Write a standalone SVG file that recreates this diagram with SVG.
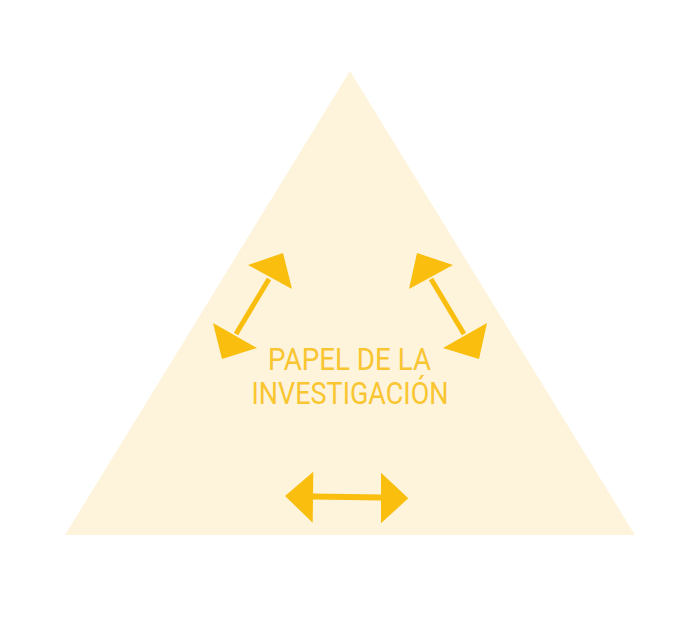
<svg xmlns="http://www.w3.org/2000/svg" width="700" height="634" viewBox="0 0 700 634">
  <style>
    .bg { fill: #FEF4DC; }
    .head { fill: #F9BE0E; }
    .shaft { stroke: #F9BE0E; stroke-width: 5; fill: none; }
    .label { font-family: Roboto, "Liberation Sans", sans-serif; font-size: 31.5px; fill: #F9C530; text-anchor: middle; }
  </style>
  <rect width="700" height="634" fill="#FFFFFF"/>
  <g id="triangle">
    <polygon class="bg" points="350,71 635,535 65,535"/>
  </g>
  <g id="connectors">
    <g id="arrow-left">
      <line class="shaft" x1="236" y1="334" x2="269" y2="279"/>
      <polygon class="head" points="283,253 248,265 292,289"/>
      <polygon class="head" points="222,359 213,323 257,348"/>
    </g>
    <g id="arrow-right">
      <line class="shaft" x1="431" y1="279" x2="464" y2="334"/>
      <polygon class="head" points="417,253 453,265 409,289"/>
      <polygon class="head" points="479,359 487,323 443,348"/>
    </g>
    <g id="arrow-bottom">
      <line class="shaft" style="stroke-width:6" x1="312" y1="496.5" x2="382" y2="497.5"/>
      <polygon class="head" points="285,496 313.3,471.7 312.7,522.7"/>
      <polygon class="head" points="408.3,498.3 381,472.7 381,523.3"/>
    </g>
  </g>
  <g id="label">
    <text class="label" x="349.5" y="369.5" textLength="163" lengthAdjust="spacingAndGlyphs">PAPEL DE LA</text>
    <text class="label" x="350" y="403.5" textLength="197" lengthAdjust="spacingAndGlyphs">INVESTIGACIÓN</text>
  </g>
</svg>
